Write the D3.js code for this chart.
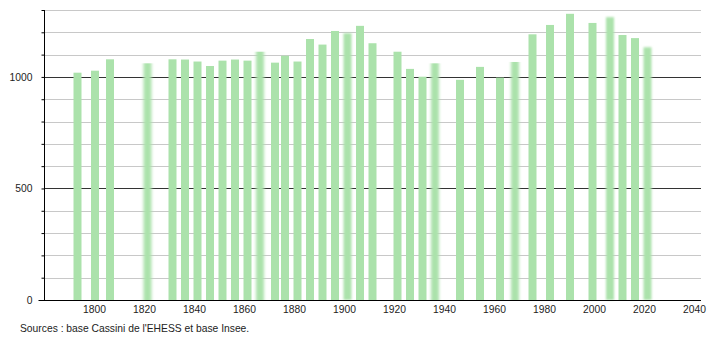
<!DOCTYPE html>
<html>
<head>
<meta charset="utf-8">
<script src="https://cdn.jsdelivr.net/npm/d3@7"></script>
<style>
  body { margin: 0; background: #fff; }
  text { font-family: "Liberation Sans", Arial, sans-serif; }
</style>
</head>
<body>
<script>
// Census years and population
const years = [1793, 1800, 1806, 1821, 1831, 1836, 1841, 1846, 1851, 1856, 1861, 1866, 1872, 1876,
    1881, 1886, 1891, 1896, 1901, 1906, 1911, 1921, 1926, 1931, 1936, 1946, 1954, 1962, 1968,
    1975, 1982, 1990, 1999, 2006, 2011, 2016, 2021];
const population = [1019, 1028, 1079, 1061, 1079, 1078, 1069, 1049, 1073, 1078, 1073, 1113, 1064, 1095,
    1069, 1170, 1145, 1206, 1196, 1229, 1151, 1113, 1036, 1001, 1061, 987, 1045, 997, 1067,
    1191, 1233, 1283, 1242, 1268, 1188, 1174, 1133];
// bars drawn fuzzy in the original
const blurStrong = [1821, 1866, 1936, 1968];
const blurLight = [1901, 2006, 2021];

const xTicks = [1800, 1820, 1840, 1860, 1880, 1900, 1920, 1940, 1960, 1980, 2000, 2020, 2040];
const yLabels = [0, 500, 1000];
const sourceText = "Sources : base Cassini de l'EHESS et base Insee.";

const width = 710;
const height = 340;
const plotLeft = 44, plotRight = 701, plotTop = 10, plotBottom = 300;

const svg = d3.select("body")
    .append("svg")
    .attr("width", width)
    .attr("height", height);

const defs = svg.append("defs");
defs.append("filter").attr("id", "blurS")
    .attr("x", "-50%").attr("width", "200%")
    .append("feGaussianBlur").attr("stdDeviation", "1.6 0.6");
defs.append("filter").attr("id", "blurL")
    .attr("x", "-50%").attr("y", "-5%").attr("width", "200%").attr("height", "110%")
    .append("feGaussianBlur").attr("stdDeviation", "0.8 0.8");

const x = d3.scaleLinear().domain([1780, 2042.8]).range([plotLeft, plotRight]);
const y = d3.scaleLinear().domain([0, 1300]).range([plotBottom, plotTop]);

// horizontal grid lines every 100
const gridVals = d3.range(100, 1301, 100);
svg.append("g")
    .selectAll("line")
    .data(gridVals)
    .join("line")
    .attr("x1", plotLeft)
    .attr("x2", plotRight)
    .attr("y1", d => Math.round(y(d)) + 0.5)
    .attr("y2", d => Math.round(y(d)) + 0.5)
    .attr("stroke", d => d % 500 === 0 ? "#333" : "#c8c8c8")
    .attr("stroke-width", 1);

// bars
const data = years.map((yr, i) => ({ year: yr, value: population[i] }));
svg.append("g")
    .selectAll("rect")
    .data(data)
    .join("rect")
    .attr("x", d => x(d.year) - 3)
    .attr("width", 8)
    .attr("y", d => y(d.value))
    .attr("height", d => plotBottom - y(d.value))
    .attr("fill", "#abe2ab")
    .attr("filter", d => blurStrong.includes(d.year) ? "url(#blurS)"
        : blurLight.includes(d.year) ? "url(#blurL)" : null);

// y axis
const yAxis = d3.axisLeft(y)
    .tickValues(d3.range(0, 1301, 100))
    .tickSize(3)
    .tickFormat(d => yLabels.includes(d) ? d : "");
const gy = svg.append("g")
    .attr("transform", `translate(${plotLeft + 0.5},0)`)
    .call(yAxis);
gy.select(".domain").attr("stroke", "#000").attr("d", `M0,${plotTop}V${plotBottom}`);
gy.selectAll(".tick line")
    .attr("stroke", "#000")
    .attr("x2", d => d === 0 ? -6 : -3);
gy.selectAll(".tick text")
    .attr("x", -12)
    .attr("font-size", 10.3)
    .attr("fill", "#222")
    .style("font-family", "Liberation Sans, Arial, sans-serif");

// x axis
const xAxis = d3.axisBottom(x)
    .tickValues(xTicks)
    .tickSize(0)
    .tickFormat(d3.format("d"));
const gx = svg.append("g")
    .attr("transform", `translate(0,${plotBottom + 0.5})`)
    .call(xAxis);
gx.select(".domain").attr("stroke", "#000").attr("d", `M${plotLeft},0H${plotRight}`);
gx.selectAll(".tick text")
    .attr("y", 5)
    .attr("font-size", 10.3)
    .attr("fill", "#222")
    .style("font-family", "Liberation Sans, Arial, sans-serif");

// source line
svg.append("text")
    .attr("x", 20)
    .attr("y", 332)
    .attr("font-size", 10.3)
    .attr("fill", "#222")
    .text(sourceText);
</script>
</body>
</html>
